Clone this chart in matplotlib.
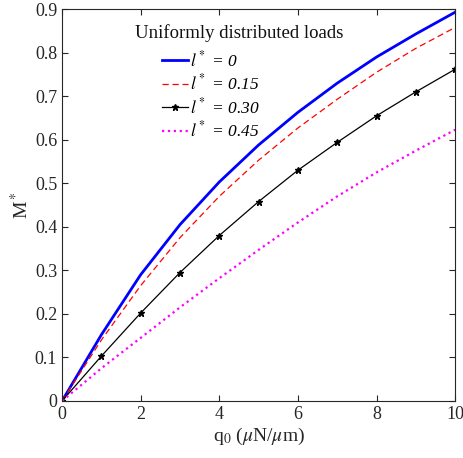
import numpy as np
import matplotlib
matplotlib.use('Agg')
import matplotlib.pyplot as plt

plt.rcParams['font.family'] = ['Liberation Serif', 'DejaVu Serif']
plt.rcParams['mathtext.fontset'] = 'stix'

q0 = [0, 1, 2, 3, 4, 5, 6, 7, 8, 9, 10]
m_l000 = [0, 0.152, 0.290, 0.405, 0.503, 0.588, 0.663, 0.730, 0.790, 0.843, 0.893]
m_l015 = [0, 0.140, 0.265, 0.375, 0.470, 0.553, 0.627, 0.693, 0.755, 0.810, 0.858]
m_l030 = [0, 0.103, 0.202, 0.295, 0.380, 0.458, 0.530, 0.594, 0.655, 0.710, 0.762]
m_l045 = [0, 0.075, 0.145, 0.215, 0.282, 0.347, 0.410, 0.470, 0.525, 0.575, 0.623]

fig = plt.figure(figsize=(4.63, 4.58), dpi=100)
ax = fig.add_axes([0.134, 0.1245, 0.849, 0.8555])

ax.plot(q0, m_l000, color='#0000ff', lw=2, label=r'$l^*$ = 0')
ax.plot(q0, m_l015, color='#ff0000', lw=0.9, ls=(0, (5, 3)), label=r'$l^*$ = 0.15')
ax.plot(q0, m_l030, color='black', lw=0.9, marker='*', ms=5, label=r'$l^*$ = 0.30')
ax.plot(q0, m_l045, color='#ff00ff', lw=1.6, ls=':', label=r'$l^*$ = 0.45')

ax.set_xlim(0, 10)
ax.set_ylim(0, 0.9)
ax.set_xticks(np.arange(0, 11, 2))
ax.set_yticks(np.arange(0, 0.91, 0.1))
ax.set_yticklabels(['0'] + ['%.1f' % v for v in np.arange(0.1, 0.91, 0.1)])
ax.tick_params(direction='in', top=True, right=True, labelsize=13, color='#262626',
               labelcolor='#262626', length=4, width=0.8)
for s in ax.spines.values():
    s.set_color('#262626')
    s.set_linewidth(0.8)

ax.set_xlabel(r'q$_0$ ($\mu$N/$\mu$m)', fontsize=14, color='#262626', labelpad=2)
ax.set_ylabel(r'M$^*$', fontsize=14, color='#262626', labelpad=2)

ax.text(0.186, 0.939, 'Uniformly distributed loads', transform=ax.transAxes,
        fontsize=13.5, ha='left', va='center', color='#111111')
ax.legend(loc='upper left', bbox_to_anchor=(0.237, 0.913), frameon=False,
          prop={'size': 12.5, 'style': 'italic'}, handlelength=1.5,
          handletextpad=0.1, labelspacing=0.2, borderaxespad=0)

fig.savefig('out.png', dpi=100)
